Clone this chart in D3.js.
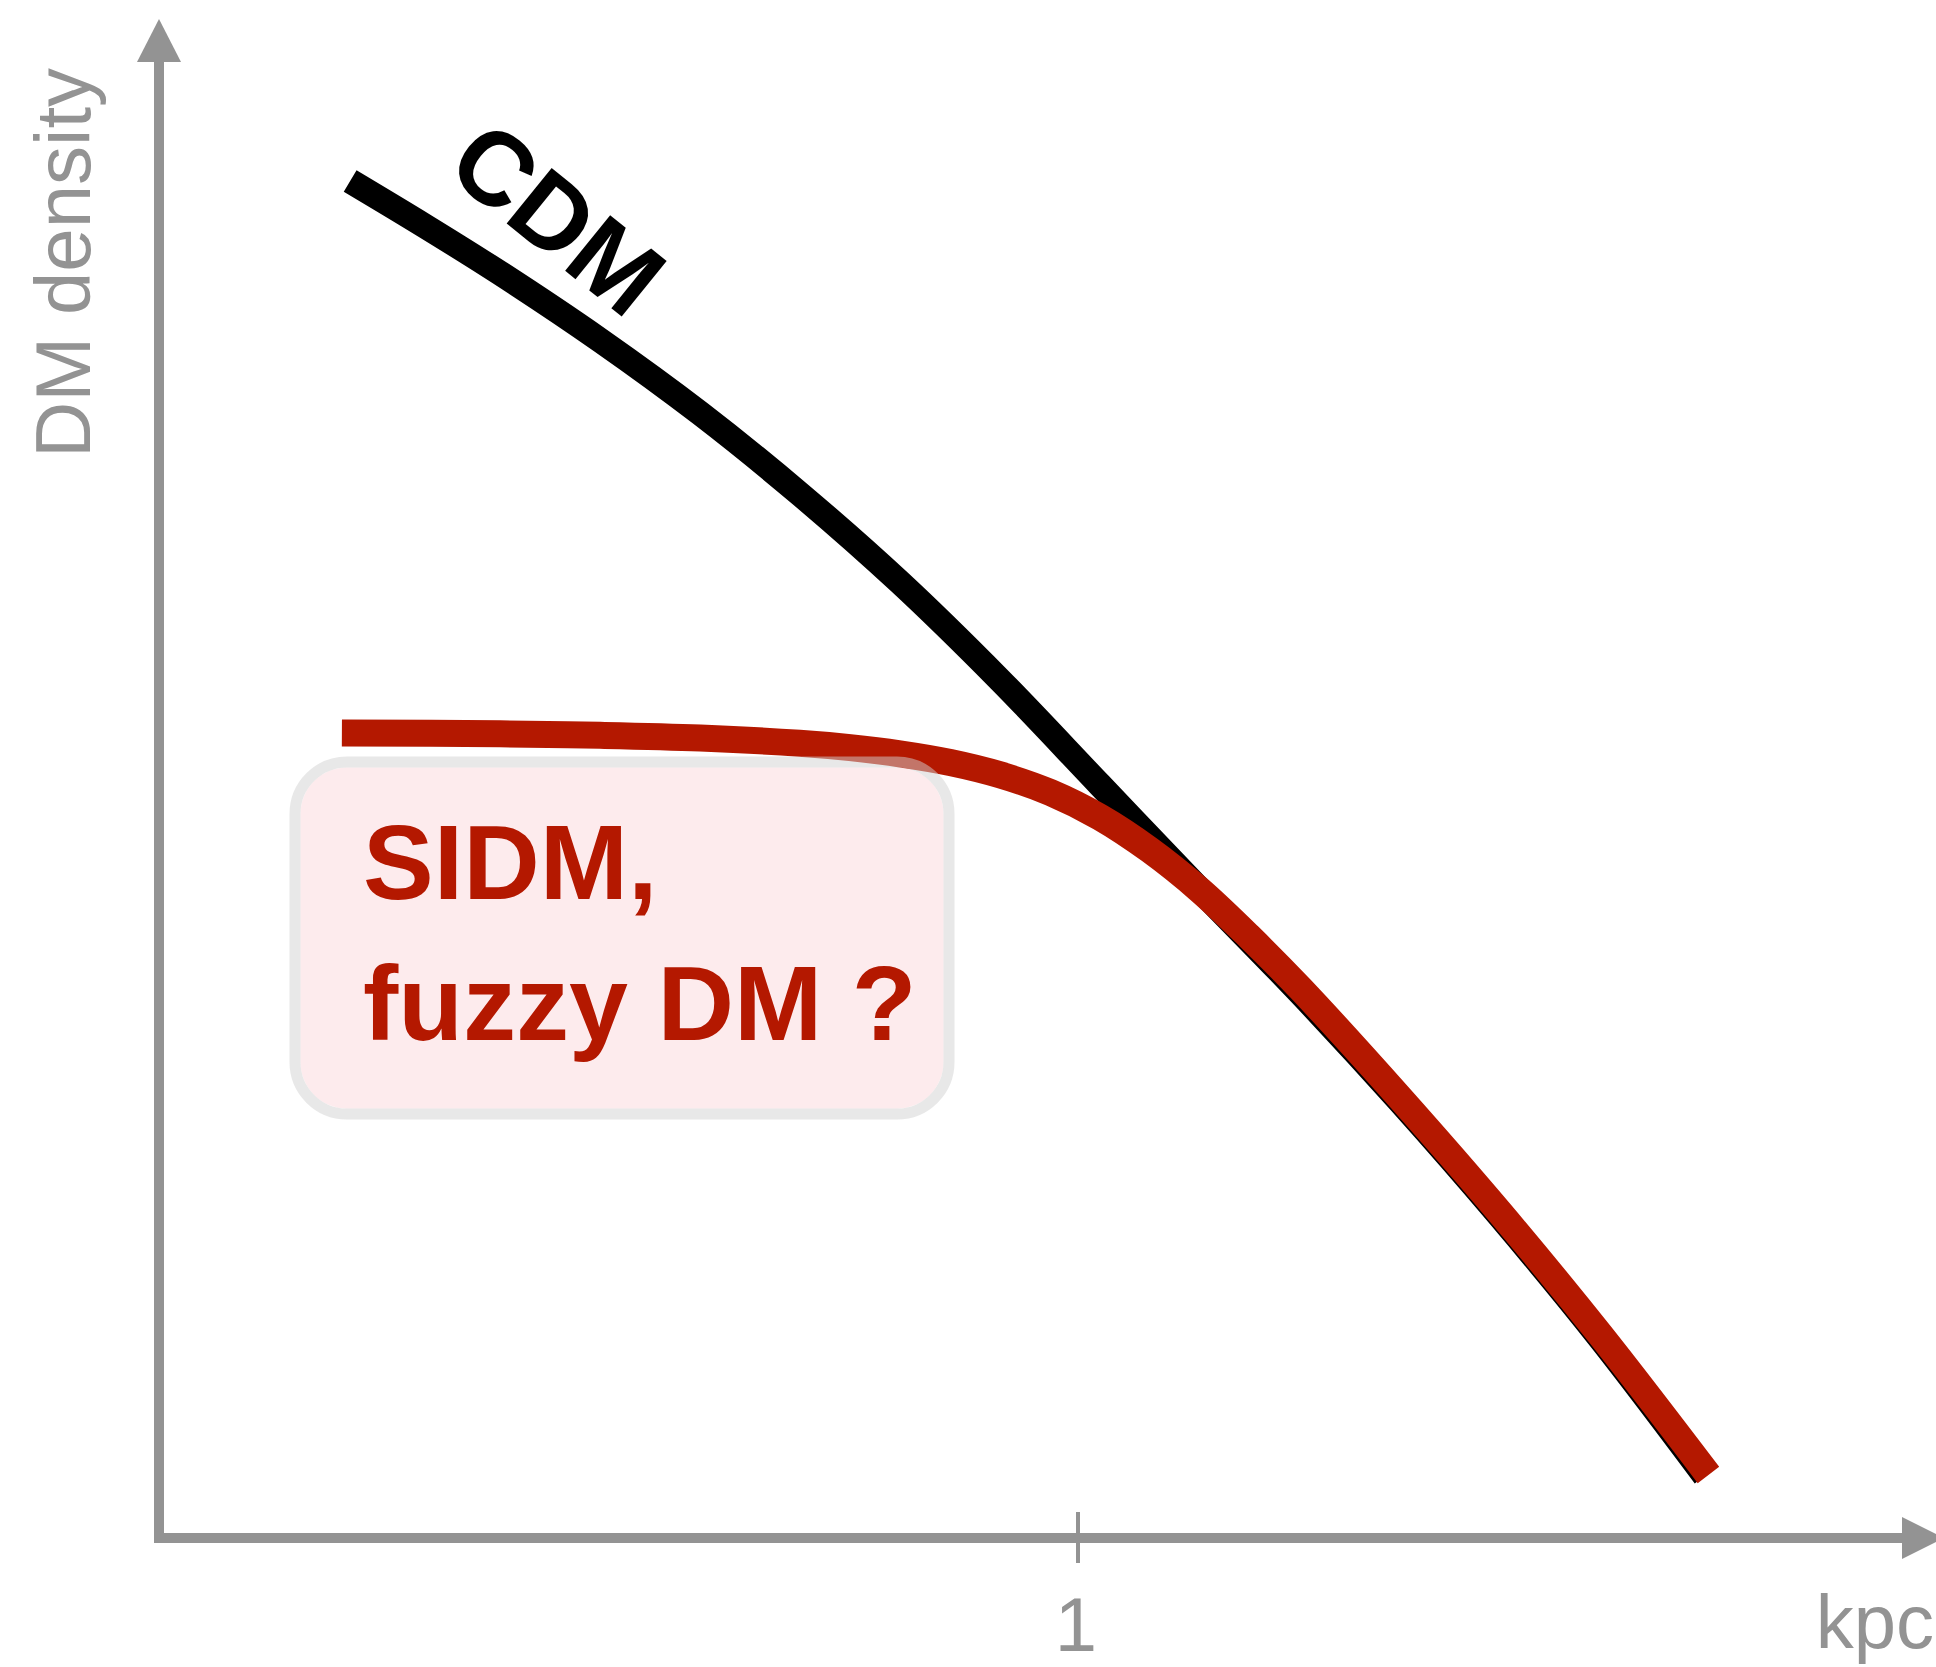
<!DOCTYPE html>
<html>
<head>
<meta charset="utf-8">
<script src="https://cdn.jsdelivr.net/npm/d3@7"></script>
<style>
  html, body { margin: 0; padding: 0; background: #ffffff; }
  svg { display: block; }
</style>
</head>
<body>
<svg id="chart" width="1936" height="1667"></svg>
<script>
// ---- data (x in kpc, y in arbitrary density units) ----
const xTickValues = [1];
const xTickLabels = ["1"];
const xAxisLabel = "kpc";
const yAxisLabel = "DM density";

const cdmX = [0.208, 0.289, 0.371, 0.480, 0.589, 0.697, 0.806, 0.915, 1.024, 1.133, 1.242, 1.350, 1.459, 1.568, 1.682];
const cdmY = [90.47, 87.48, 84.33, 79.85, 74.97, 69.62, 63.72, 57.20, 50.20, 43.20, 36.30, 29.10, 21.43, 13.30, 4.13];

const sidmX = [0.199, 0.371, 0.480, 0.589, 0.697, 0.752, 0.806, 0.861, 0.915, 0.970, 1.024, 1.078, 1.133, 1.187, 1.242, 1.350, 1.459, 1.568, 1.686];
const sidmY = [53.67, 53.61, 53.51, 53.33, 52.98, 52.69, 52.28, 51.70, 50.88, 49.70, 48.05, 45.87, 43.17, 40.05, 36.63, 29.37, 21.70, 13.57, 4.20];

const cdmLabel = "CDM";
const boxLines = ["SIDM,", "fuzzy DM ?"];

// ---- setup ----
const svg = d3.select("#chart");
const gray = "#939393";
const red = "#b41800";
const font = "'Liberation Sans', Arial, Helvetica, sans-serif";

const originX = 159, originY = 1538;
const x = d3.scaleLinear().domain([0, 1]).range([originX, 1078]);
const y = d3.scaleLinear().domain([0, 100]).range([originY, 38]);

// ---- axes ----
const axes = svg.append("g");
axes.append("line")
  .attr("x1", originX).attr("x2", originX)
  .attr("y1", originY + 4).attr("y2", 60)
  .attr("stroke", gray).attr("stroke-width", 10);
axes.append("path")
  .attr("d", `M${originX},19 L${originX + 22},62 L${originX - 22},62 Z`)
  .attr("fill", gray);
axes.append("line")
  .attr("x1", originX - 5).attr("x2", 1904)
  .attr("y1", originY).attr("y2", originY)
  .attr("stroke", gray).attr("stroke-width", 10);
axes.append("path")
  .attr("d", `M1902,${originY - 21} L1944,${originY} L1902,${originY + 21} Z`)
  .attr("fill", gray);

xTickValues.forEach((v, i) => {
  axes.append("line")
    .attr("x1", x(v)).attr("x2", x(v))
    .attr("y1", originY - 26).attr("y2", originY + 25)
    .attr("stroke", gray).attr("stroke-width", 4);
  axes.append("text")
    .attr("x", x(v) - 2).attr("y", 1651)
    .attr("text-anchor", "middle")
    .attr("font-family", font).attr("font-size", 76)
    .attr("fill", gray)
    .text(xTickLabels[i]);
});

axes.append("text")
  .attr("x", 1934).attr("y", 1648)
  .attr("text-anchor", "end")
  .attr("font-family", font).attr("font-size", 76)
  .attr("fill", gray)
  .text(xAxisLabel);

axes.append("text")
  .attr("transform", "translate(90,458) rotate(-90)")
  .attr("text-anchor", "start")
  .attr("font-family", font).attr("font-size", 78)
  .attr("fill", gray)
  .text(yAxisLabel);

// ---- curves ----
const line = d3.line()
  .x(d => x(d[0]))
  .y(d => y(d[1]))
  .curve(d3.curveCatmullRom.alpha(0.5));

const cdmData = cdmX.map((v, i) => [v, cdmY[i]]);
const sidmData = sidmX.map((v, i) => [v, sidmY[i]]);

svg.append("path")
  .attr("d", line(cdmData))
  .attr("fill", "none")
  .attr("stroke", "#000000")
  .attr("stroke-width", 25)
  .attr("stroke-linecap", "butt")
  .attr("stroke-linejoin", "round");

svg.append("path")
  .attr("d", line(sidmData))
  .attr("fill", "none")
  .attr("stroke", red)
  .attr("stroke-width", 27)
  .attr("stroke-linecap", "butt")
  .attr("stroke-linejoin", "round");

// ---- annotation box (semi-transparent, over the red curve) ----
const bx = 295, by = 762, bw = 654, bh = 352, br = 52, sw = 11;
svg.append("rect")
  .attr("x", bx + sw / 2).attr("y", by + sw / 2)
  .attr("width", bw - sw).attr("height", bh - sw)
  .attr("rx", br - sw / 2).attr("ry", br - sw / 2)
  .attr("fill", "#fcd8dc").attr("fill-opacity", 0.5);
svg.append("rect")
  .attr("x", bx).attr("y", by)
  .attr("width", bw).attr("height", bh)
  .attr("rx", br).attr("ry", br)
  .attr("fill", "none")
  .attr("stroke", "#d2d2d2").attr("stroke-opacity", 0.5)
  .attr("stroke-width", sw);

const boxText = svg.append("text")
  .attr("font-family", font).attr("font-size", 106)
  .attr("font-weight", "bold")
  .attr("fill", red);
boxText.append("tspan").attr("x", 363).attr("y", 899).text(boxLines[0]);
boxText.append("tspan").attr("x", 363).attr("y", 1040).text(boxLines[1]);

// ---- CDM label ----
svg.append("text")
  .attr("transform", "translate(443,172) rotate(39)")
  .attr("font-family", font).attr("font-size", 104)
  .attr("font-weight", "bold")
  .attr("fill", "#000000")
  .text(cdmLabel);
</script>
</body>
</html>
